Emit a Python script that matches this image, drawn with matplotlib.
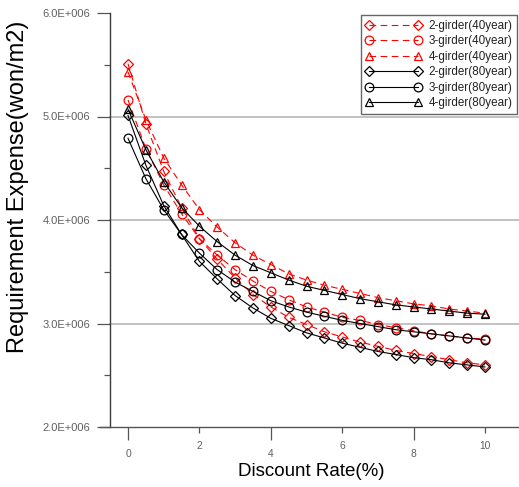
import matplotlib
matplotlib.use("Agg")
import matplotlib.pyplot as plt
from matplotlib.ticker import FixedLocator, FixedFormatter

plt.rcParams['font.family'] = ['Liberation Sans', 'DejaVu Sans']

# Discount rate (%)
rate = [0, 0.5, 1, 1.5, 2, 2.5, 3, 3.5, 4, 4.5, 5, 5.5, 6, 6.5, 7, 7.5, 8, 8.5, 9, 9.5, 10]

# Requirement expense (won/m2), 40-year service life
girder2_40 = [5.51e6, 4.93e6, 4.47e6, 4.12e6, 3.82e6, 3.62e6, 3.44e6, 3.28e6, 3.16e6, 3.06e6, 2.99e6,
              2.92e6, 2.87e6, 2.82e6, 2.78e6, 2.74e6, 2.71e6, 2.68e6, 2.65e6, 2.62e6, 2.60e6]
girder3_40 = [5.16e6, 4.69e6, 4.34e6, 4.06e6, 3.82e6, 3.66e6, 3.52e6, 3.41e6, 3.31e6, 3.23e6, 3.16e6,
              3.11e6, 3.06e6, 3.03e6, 2.99e6, 2.96e6, 2.93e6, 2.90e6, 2.88e6, 2.86e6, 2.85e6]
girder4_40 = [5.43e6, 4.97e6, 4.60e6, 4.34e6, 4.10e6, 3.93e6, 3.78e6, 3.66e6, 3.57e6, 3.48e6, 3.42e6,
              3.37e6, 3.33e6, 3.29e6, 3.25e6, 3.22e6, 3.19e6, 3.17e6, 3.14e6, 3.12e6, 3.10e6]

# Requirement expense (won/m2), 80-year service life
girder2_80 = [5.01e6, 4.53e6, 4.14e6, 3.86e6, 3.60e6, 3.43e6, 3.27e6, 3.15e6, 3.05e6, 2.98e6, 2.91e6,
              2.86e6, 2.81e6, 2.77e6, 2.73e6, 2.70e6, 2.67e6, 2.65e6, 2.62e6, 2.60e6, 2.58e6]
girder3_80 = [4.79e6, 4.40e6, 4.10e6, 3.86e6, 3.68e6, 3.52e6, 3.40e6, 3.31e6, 3.22e6, 3.16e6, 3.11e6,
              3.07e6, 3.03e6, 3.00e6, 2.97e6, 2.94e6, 2.92e6, 2.90e6, 2.88e6, 2.86e6, 2.84e6]
girder4_80 = [5.07e6, 4.68e6, 4.37e6, 4.12e6, 3.94e6, 3.79e6, 3.66e6, 3.56e6, 3.49e6, 3.42e6, 3.36e6,
              3.32e6, 3.28e6, 3.24e6, 3.21e6, 3.18e6, 3.16e6, 3.14e6, 3.12e6, 3.10e6, 3.09e6]

labels = ['2-girder(40year)', '3-girder(40year)', '4-girder(40year)',
          '2-girder(80year)', '3-girder(80year)', '4-girder(80year)']

y_ticks = [2e6, 3e6, 4e6, 5e6, 6e6]
y_ticklabels = ['2.0E+006', '3.0E+006', '4.0E+006', '5.0E+006', '6.0E+006']
x_ticks_low = [0, 4, 8]
x_ticks_high = [2, 6, 10]

fig = plt.figure(figsize=(5.19, 4.87), dpi=100)
W, H = 519, 487
ax = fig.add_axes([100 / W, 60 / H, 419 / W, 414 / H])

px_per_unit = (485 - 128) / 10.0
ax.set_xlim((100 - 128) / px_per_unit, (519 - 128) / px_per_unit)
ax.set_ylim(2e6, 6e6)

# horizontal grid lines start at the y axis
yaxis_x = -0.5
xfrac = (yaxis_x - ax.get_xlim()[0]) / (ax.get_xlim()[1] - ax.get_xlim()[0])
for gy in [3e6, 4e6, 5e6]:
    ax.axhline(gy, xmin=xfrac, xmax=1, color='#bdbdbd', lw=1.3, zorder=0)

red_kw = dict(color='red', ls=(0, (6, 4)), lw=0.8, mfc='none', mec='red', mew=0.9)
blk_kw = dict(color='black', ls='-', lw=0.8, mfc='none', mec='black', mew=0.9)

ax.plot(rate, girder2_40, marker='D', ms=5.3, label=labels[0], **red_kw)
ax.plot(rate, girder3_40, marker='o', ms=6.3, label=labels[1], **red_kw)
ax.plot(rate, girder4_40, marker='^', ms=6.3, label=labels[2], **red_kw)
ax.plot(rate, girder2_80, marker='D', ms=5.3, label=labels[3], **blk_kw)
ax.plot(rate, girder3_80, marker='o', ms=6.3, label=labels[4], **blk_kw)
ax.plot(rate, girder4_80, marker='^', ms=6.3, label=labels[5], **blk_kw)

for side in ['top', 'right']:
    ax.spines[side].set_visible(False)
ax.spines['left'].set_position(('data', yaxis_x))
ax.spines['left'].set_color('#3a3a3a')
ax.spines['bottom'].set_color('#555555')
ax.spines['left'].set_linewidth(1.0)
ax.spines['bottom'].set_linewidth(1.0)

ax.yaxis.set_major_locator(FixedLocator(y_ticks))
ax.yaxis.set_major_formatter(FixedFormatter(y_ticklabels))
ax.yaxis.set_minor_locator(FixedLocator([2.5e6, 3.5e6, 4.5e6, 5.5e6]))
ax.tick_params(axis='y', which='major', direction='out', length=9.5, width=0.9,
               color='#555555', labelsize=8, labelcolor='#606060', pad=5)
ax.tick_params(axis='y', which='minor', direction='out', length=4.5, width=0.9, color='#555555')

# staggered x tick labels: long ticks with low labels, short ticks with high labels
ax.xaxis.set_major_locator(FixedLocator(x_ticks_low))
ax.xaxis.set_major_formatter(FixedFormatter([str(v) for v in x_ticks_low]))
ax.xaxis.set_minor_locator(FixedLocator(x_ticks_high))
ax.xaxis.set_minor_formatter(FixedFormatter([str(v) for v in x_ticks_high]))
ax.tick_params(axis='x', which='major', direction='out', length=9.5, width=0.9,
               color='#555555', labelsize=7.4, labelcolor='#606060', pad=6)
ax.tick_params(axis='x', which='minor', direction='out', length=4.0, width=0.9,
               color='#555555', labelsize=7.4, labelcolor='#606060', pad=6)

fig.text(311 / W, 1 - 472 / H, 'Discount Rate(%)', fontsize=13.5, ha='center', va='center')
fig.text(18 / W, 1 - 187 / H, 'Requirement Expense(won/m2)', fontsize=17,
         rotation=90, ha='center', va='center')

leg = ax.legend(loc='upper right', bbox_to_anchor=(517 / W, 1 - 15 / H),
                bbox_transform=fig.transFigure, borderaxespad=0, numpoints=2,
                fontsize=8.4, handlelength=4.8, labelspacing=0.3, handletextpad=0.6,
                borderpad=0.4, fancybox=False, framealpha=1, edgecolor='#666666')
leg.get_frame().set_linewidth(1.0)
for t in leg.get_texts():
    t.set_color('#222222')

fig.savefig('out.png', dpi=100)
